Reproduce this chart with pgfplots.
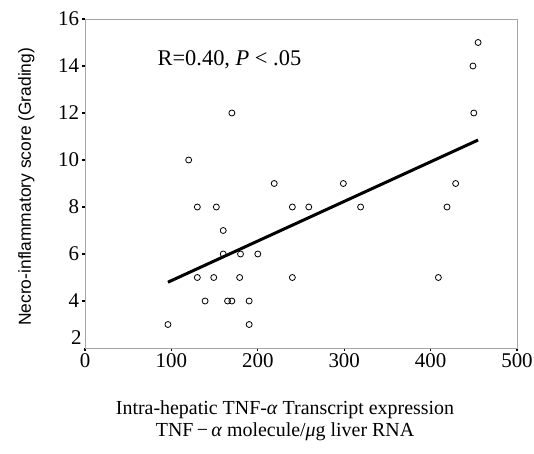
\documentclass[border=0pt]{standalone}
\usepackage{fontspec}
\setmainfont{Liberation Serif}
\setsansfont{Liberation Sans}
\usepackage{pgfplots}
\pgfplotsset{compat=1.18}

\begin{document}
\begin{tikzpicture}
\path[use as bounding box] (-85bp,-106bp) rectangle (449bp,348bp);
\begin{axis}[
    scale only axis,
    width            = 432bp,
    height           = 329bp,
    xmin = 0, xmax = 500,
    ymin = 2, ymax = 16,
    xtick            = {0,100,...,500},
    ytick            = {4,6,...,16},
    extra y ticks    = {2},
    extra y tick style = {major tick length=0pt,
                          yticklabel style={yshift=10bp}},
    tick align       = outside,
    xtick pos        = bottom,
    ytick pos        = left,
    major tick length = 2.5bp,
    tick style       = {black, line width=1.2bp},
    axis line style  = {gray!70, line width=0.9bp},
    ticklabel style  = {font=\fontsize{21}{21}\selectfont},
    /pgf/number format/assume math mode=true,
    xlabel           = {Intra-hepatic TNF-\textit{α} Transcript expression\\TNF\,−\,\textit{α} molecule/\textit{μ}g liver RNA},
    xlabel style     = {font=\fontsize{20}{22}\selectfont, align=center,
                        at={(axis description cs:0.463,-0.15)}, anchor=north},
    ylabel           = {Necro-inflammatory score (Grading)},
    ylabel style     = {font=\sffamily\fontsize{17.5}{17.5}\selectfont,
                        at={(axis description cs:-0.136,0.49)}, anchor=center},
    clip = false,
]

% scatter of individual patients
\addplot[only marks, mark=o, mark size=3bp, mark options={line width=0.8bp, black}]
coordinates {
    (455,15) (449,14) (450,12) (170,12) (120,10)
    (219,9) (299,9) (429,9)
    (130,8) (152,8) (240,8) (259,8) (319,8) (419,8)
    (160,7)
    (160,6) (180,6) (200,6)
    (130,5) (149,5) (179,5) (240,5) (409,5)
    (139,4) (165,4) (170,4) (190,4)
    (96,3) (190,3)
};

% regression line
\addplot[black, line width=3bp] coordinates {(96,4.8) (455,10.85)};

\node[anchor=west, font=\fontsize{22.5}{22.5}\selectfont] at (axis cs:80,14.25)
    {R=0.40, \textit{P} < .05};

\end{axis}
\end{tikzpicture}
\end{document}
